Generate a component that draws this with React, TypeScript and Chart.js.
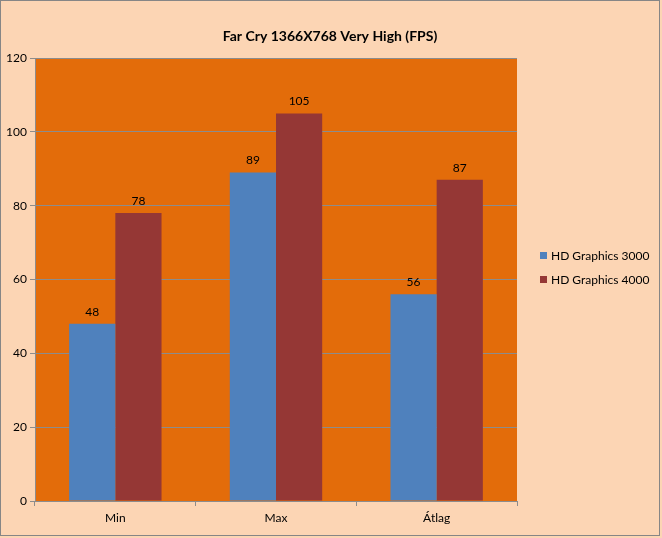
import React, { useEffect, useRef } from "react";
import { Chart, registerables } from "chart.js";

Chart.register(...registerables);

const categories = ["Min", "Max", "Átlag"];
const seriesNames = ["HD Graphics 3000", "HD Graphics 4000"];
const hd3000 = [48, 89, 56];
const hd4000 = [78, 105, 87];
const yTicks = [0, 20, 40, 60, 80, 100, 120];
const titleText = "Far Cry 1366X768 Very High (FPS)";

const BLUE = "#4F81BD";
const RED = "#953735";
const ORANGE = "#E36C0A";
const PEACH = "#FCD5B4";
const GRID = "#8C8C8C";
const FONT = "Lato, 'Open Sans', sans-serif";

const decorPlugin = {
  id: "decor",
  beforeDraw(chart: any) {
    const { ctx, width, height, chartArea } = chart;
    ctx.save();
    ctx.fillStyle = PEACH;
    ctx.fillRect(0, 0, width, height);
    ctx.strokeStyle = "#868686";
    ctx.lineWidth = 1;
    ctx.strokeRect(0.5, 0.5, width - 3, height - 3);
    ctx.fillStyle = ORANGE;
    ctx.fillRect(chartArea.left, chartArea.top, chartArea.right - chartArea.left, chartArea.bottom - chartArea.top);
    // title
    ctx.fillStyle = "#000";
    ctx.font = `bold 14px ${FONT}`;
    ctx.textAlign = "center";
    ctx.textBaseline = "middle";
    ctx.fillText(titleText, 330, 36);
    ctx.restore();
  },
  afterDatasetsDraw(chart: any) {
    const { ctx } = chart;
    ctx.save();
    ctx.fillStyle = "#000";
    ctx.font = `12px ${FONT}`;
    ctx.textAlign = "center";
    ctx.textBaseline = "middle";
    chart.data.datasets.forEach((ds: any, i: number) => {
      const meta = chart.getDatasetMeta(i);
      meta.data.forEach((bar: any, j: number) => {
        ctx.fillText(String(ds.data[j]), bar.x, bar.y - 12);
      });
    });
    // legend
    const colors = [BLUE, RED];
    ctx.textAlign = "left";
    seriesNames.forEach((name, i) => {
      const y = 256 + i * 24;
      ctx.fillStyle = colors[i];
      ctx.fillRect(540, y - 4, 7, 7);
      ctx.fillStyle = "#000";
      ctx.fillText(name, 551, y);
    });
    ctx.restore();
  },
};

export default function App() {
  const ref = useRef<HTMLCanvasElement>(null);
  useEffect(() => {
    document.body.style.margin = "0";
    const chart = new Chart(ref.current!, {
      type: "bar",
      data: {
        labels: categories,
        datasets: [
          { label: seriesNames[0], data: hd3000, backgroundColor: BLUE },
          { label: seriesNames[1], data: hd4000, backgroundColor: RED },
        ],
      },
      options: {
        animation: false,
        responsive: false,
        devicePixelRatio: 1,
        layout: { padding: { top: 58, right: 145, left: 0, bottom: 0 } },
        plugins: { legend: { display: false }, title: { display: false }, tooltip: { enabled: false } },
        datasets: { bar: { categoryPercentage: 0.575, barPercentage: 1 } },
        scales: {
          x: {
            afterFit: (s: any) => { s.height = 37; },
            grid: { drawOnChartArea: false, drawTicks: true, tickLength: 5, color: GRID, offset: true },
            border: { color: GRID, width: 1 },
            ticks: { color: "#000", font: { family: FONT, size: 12 }, padding: 5 },
          },
          y: {
            min: 0,
            max: 120,
            afterFit: (s: any) => { s.width = 35; },
            afterBuildTicks: (s: any) => { s.ticks = yTicks.map((v) => ({ value: v })); },
            grid: { color: GRID, tickLength: 5 },
            border: { color: GRID, width: 1 },
            ticks: { color: "#000", font: { family: FONT, size: 12 }, padding: 3 },
          },
        },
      },
      plugins: [decorPlugin],
    });
    return () => chart.destroy();
  }, []);
  return <canvas ref={ref} width={662} height={538} style={{ display: "block" }} />;
}
